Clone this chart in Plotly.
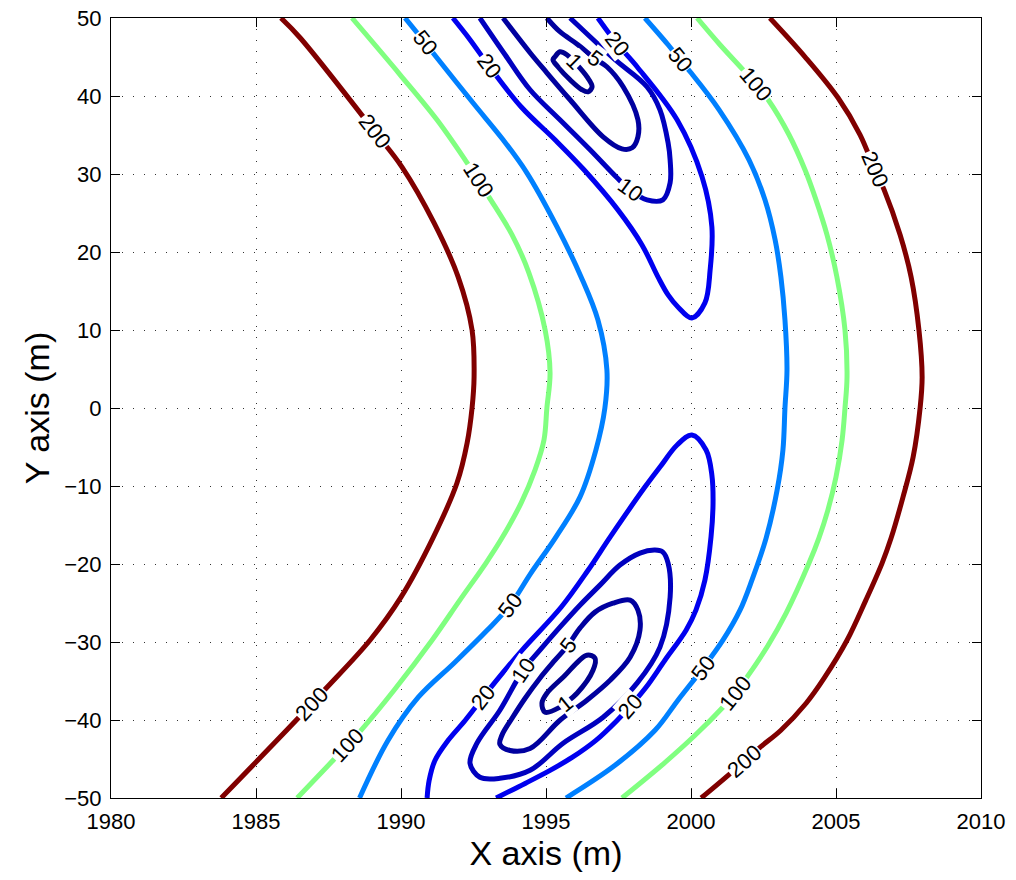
import math
import plotly.graph_objects as go

# ---------------- data ----------------
levels = [1, 5, 10, 20, 50, 100, 200]
level_colors = ['#00008F', '#00009F', '#0000BF', '#0000EF', '#0080FF', '#80FF80', '#800000']

x_ticks = [1980, 1985, 1990, 1995, 2000, 2005, 2010]
x_tick_labels = ['1980', '1985', '1990', '1995', '2000', '2005', '2010']
y_ticks = [-50, -40, -30, -20, -10, 0, 10, 20, 30, 40, 50]
y_tick_labels = ['\u221250', '\u221240', '\u221230', '\u221220', '\u221210', '0', '10', '20', '30', '40', '50']

# level 200
c200_left_x = [1985.86, 1986.52, 1989.10, 1990.03, 1991.14, 1991.97, 1992.45, 1992.52, 1992.45, 1992.28, 1991.93, 1991.10, 1990.00, 1988.93, 1987.45, 1986.93, 1986.45, 1983.80]
c200_left_y = [50.0, 47.47, 35.41, 30.92, 23.73, 16.81, 10.0, 3.97, 0.0, -4.49, -9.62, -16.68, -24.25, -29.77, -35.80, -37.85, -39.78, -50.0]
c200_right_x = [2002.72, 2003.93, 2005.07, 2005.83, 2006.34, 2006.66, 2007.21, 2007.59, 2007.86, 2007.97, 2007.90, 2007.66, 2007.31, 2006.90, 2006.59, 2006.03, 2005.38, 2004.59, 2003.97, 2003.10, 2002.38, 2001.83, 2001.28, 2000.35]
c200_right_y = [50.0, 45.03, 39.77, 35.03, 30.54, 27.97, 22.20, 16.81, 10.0, 3.97, 0.0, -6.29, -11.42, -16.68, -19.88, -24.63, -29.78, -34.64, -37.85, -41.31, -43.50, -45.29, -47.09, -50.0]

# level 100
c100_left_x = [1988.31, 1989.97, 1991.24, 1992.21, 1992.66, 1993.03, 1993.83, 1994.41, 1994.97, 1995.14, 1995.03, 1994.93, 1994.62, 1994.14, 1993.48, 1992.93, 1992.03, 1991.07, 1989.76, 1988.62, 1988.14, 1987.66, 1986.42]
c100_left_y = [50.0, 42.72, 36.95, 31.82, 29.26, 27.07, 22.20, 17.33, 10.0, 4.49, 0.0, -4.11, -7.96, -12.19, -16.68, -19.88, -24.63, -29.77, -36.18, -41.32, -43.24, -45.16, -50.0]
c100_right_x = [2000.21, 2001.00, 2001.79, 2002.24, 2002.66, 2003.38, 2003.93, 2004.31, 2004.69, 2005.03, 2005.31, 2005.38, 2005.31, 2005.21, 2005.00, 2004.72, 2004.41, 2004.07, 2003.28, 2002.66, 2001.93, 2001.52, 2001.10, 2000.14, 1999.07, 1997.62]
c100_right_y = [50.0, 46.57, 43.37, 41.44, 39.52, 35.03, 30.54, 26.69, 22.20, 16.81, 10.0, 3.97, 0.0, -4.11, -8.85, -13.09, -16.68, -19.88, -26.30, -30.41, -34.51, -36.57, -38.36, -41.96, -45.55, -50.0]

# level 50
c50_left_x = [1990.14, 1990.83, 1991.10, 1992.48, 1993.52, 1994.34, 1995.38, 1996.21, 1996.79, 1997.10, 1997.03, 1996.72, 1996.17, 1995.34, 1994.48, 1993.76, 1992.97, 1991.86, 1990.59, 1989.55, 1988.57]
c50_left_y = [50.0, 46.83, 45.55, 39.13, 34.39, 30.15, 23.22, 16.81, 11.29, 4.88, 0.0, -5.39, -11.42, -16.55, -21.17, -25.29, -28.50, -32.59, -37.11, -42.63, -50.0]
c50_right_x = [1998.41, 1999.21, 1999.62, 2000.00, 2000.97, 2002.00, 2002.55, 2002.90, 2003.10, 2003.24, 2003.31, 2003.24, 2003.17, 2002.97, 2002.59, 2002.10, 2001.69, 2001.10, 2000.41, 1999.55, 1998.76, 1997.38, 1995.69]
c50_right_y = [50.0, 46.57, 44.65, 42.98, 38.23, 31.82, 26.69, 21.56, 16.81, 11.29, 4.88, 0.0, -5.39, -10.52, -16.68, -22.07, -25.92, -29.77, -33.36, -37.46, -41.32, -45.81, -50.0]

# level 20
c20_top_x = [1991.79, 1992.38, 1993.03, 1994.14, 1995.31, 1996.31, 1997.48, 1998.31, 1998.86, 1999.21, 1999.55, 2000.03, 2000.48, 2000.66, 2000.72, 2000.38, 1999.52, 1998.14, 1997.45, 1996.79]
c20_top_y = [50.0, 47.22, 43.88, 38.62, 34.39, 30.54, 25.40, 20.91, 16.81, 14.50, 12.96, 11.55, 13.48, 17.71, 23.22, 29.64, 36.95, 43.75, 46.70, 50.0]
c20_bot_x = [1990.90, 1990.97, 1991.17, 1991.62, 1992.21, 1992.83, 1993.21, 1994.17, 1995.52, 1996.45, 1997.21, 1998.41, 1998.93, 1999.52, 2000.03, 2000.52, 2000.72, 2000.76, 2000.69, 2000.48, 2000.17, 1999.83, 1999.10, 1998.45, 1997.90, 1997.45, 1996.72, 1995.90, 1995.14, 1994.28, 1993.28]
c20_bot_y = [-50.0, -47.76, -45.19, -42.63, -40.06, -37.11, -35.31, -31.07, -25.55, -20.80, -16.55, -10.14, -7.57, -4.75, -3.46, -5.39, -8.60, -12.19, -16.55, -22.07, -25.92, -28.49, -32.34, -35.81, -38.25, -40.05, -42.61, -44.80, -46.46, -48.13, -50.0]

# level 10
c10_top_x = [1992.72, 1993.59, 1994.45, 1995.48, 1996.52, 1997.45, 1997.90, 1998.48, 1999.03, 1999.28, 1999.28, 1999.21, 1998.93, 1998.48, 1997.38, 1996.52, 1995.83]
c10_top_y = [50.0, 45.29, 40.80, 36.95, 33.10, 29.51, 27.97, 26.69, 26.69, 28.87, 31.82, 34.00, 38.23, 41.19, 44.65, 47.60, 50.0]
c10_bot_x = [1998.76, 1998.24, 1997.55, 1996.86, 1996.17, 1995.48, 1994.79, 1994.21, 1993.41, 1992.62, 1992.38, 1992.72, 1993.41, 1994.45, 1995.59, 1996.97, 1998.14, 1998.93, 1999.28, 1999.21, 1999.03, 1998.76]
c10_bot_y = [-18.22, -18.60, -20.14, -22.71, -25.29, -28.10, -31.05, -33.62, -38.75, -42.98, -45.55, -47.34, -47.47, -46.45, -42.98, -39.65, -35.28, -30.66, -24.25, -19.88, -18.47, -18.22]

# level 5
c5_top_x = [1993.52, 1994.45, 1995.03, 1995.83, 1996.97, 1997.62, 1997.97, 1998.17, 1998.17, 1997.66, 1997.10, 1996.69, 1996.10, 1995.48, 1995.03]
c5_top_y = [50.0, 45.55, 42.98, 39.52, 34.77, 33.23, 33.36, 34.77, 36.95, 41.19, 43.75, 44.78, 46.58, 48.24, 50.0]
c5_bot_x = [1998.17, 1997.90, 1997.31, 1996.69, 1996.17, 1995.76, 1995.31, 1994.79, 1994.28, 1993.83, 1993.48, 1993.41, 1993.76, 1994.45, 1995.48, 1996.41, 1997.21, 1997.90, 1998.24, 1998.17]
c5_bot_y = [-25.92, -24.64, -25.03, -26.17, -28.23, -30.41, -32.33, -34.64, -37.21, -39.78, -41.95, -43.11, -43.91, -43.65, -40.03, -37.46, -34.90, -31.95, -28.48, -25.92]

# level 1
c1_top_x = [1995.31, 1995.48, 1995.72, 1995.97, 1996.07, 1996.41, 1996.59, 1996.45, 1996.24, 1995.83, 1995.41, 1995.24, 1995.31]
c1_top_y = [45.03, 45.68, 45.29, 44.39, 44.01, 42.48, 41.19, 40.54, 40.80, 42.08, 43.75, 44.65, 45.03]
c1_bot_x = [1994.86, 1995.03, 1995.59, 1996.41, 1996.69, 1996.62, 1996.07, 1995.66, 1995.48, 1994.97, 1994.86]
c1_bot_y = [-37.85, -36.57, -34.52, -31.69, -32.07, -33.62, -36.57, -37.85, -38.36, -39.00, -37.85]

contour_paths = [
    (200, c200_left_x, c200_left_y), (200, c200_right_x, c200_right_y),
    (100, c100_left_x, c100_left_y), (100, c100_right_x, c100_right_y),
    (50, c50_left_x, c50_left_y), (50, c50_right_x, c50_right_y),
    (20, c20_top_x, c20_top_y), (20, c20_bot_x, c20_bot_y),
    (10, c10_top_x, c10_top_y), (10, c10_bot_x, c10_bot_y),
    (5, c5_top_x, c5_top_y), (5, c5_bot_x, c5_bot_y),
    (1, c1_top_x, c1_top_y), (1, c1_bot_x, c1_bot_y),
]

# inline contour labels: level, x, y
label_points = [
    (200, 1989.10, 35.41), (200, 2006.34, 30.54), (200, 1986.93, -37.85), (200, 2001.83, -45.29),
    (100, 1992.66, 29.26), (100, 2002.24, 41.44), (100, 1988.14, -43.24), (100, 2001.52, -36.57),
    (50, 1990.83, 46.83), (50, 1999.62, 44.65), (50, 1993.76, -25.29), (50, 2000.41, -33.36),
    (20, 1993.03, 43.88), (20, 1997.45, 46.70), (20, 1992.83, -37.11), (20, 1997.90, -38.25),
    (10, 1997.90, 27.97), (10, 1994.21, -33.62),
    (5, 1996.69, 44.78), (5, 1995.76, -30.41),
    (1, 1995.97, 44.39), (1, 1995.66, -37.85),
]

# ---------------- figure ----------------
W, H = 1016, 880
ML, MR, MT, MB = 111, 35, 18, 82
XR = [1980, 2010]
YR = [-50, 50]
sx = (W - ML - MR) / (XR[1] - XR[0])
sy = (H - MT - MB) / (YR[1] - YR[0])

color_of = dict(zip(levels, level_colors))
FONT = 'Liberation Sans, Arial, Helvetica, sans-serif'

fig = go.Figure()
for lev, xs, ys in contour_paths:
    fig.add_trace(go.Scatter(
        x=xs, y=ys, mode='lines',
        line=dict(color=color_of[lev], width=5, shape='spline', smoothing=1.0),
        hoverinfo='skip', showlegend=False))

annotations = []
for lev, lx, ly in label_points:
    best = None
    for plev, xs, ys in contour_paths:
        if plev != lev:
            continue
        for i in range(len(xs)):
            d = ((xs[i] - lx) * sx) ** 2 + ((ys[i] - ly) * sy) ** 2
            if best is None or d < best[0]:
                best = (d, xs, ys, i)
    _, xs, ys, i = best
    i0 = max(i - 1, 0)
    i1 = min(i + 1, len(xs) - 1)
    dx = (xs[i1] - xs[i0]) * sx
    dy = -(ys[i1] - ys[i0]) * sy
    ang = math.degrees(math.atan2(dy, dx))
    if ang > 90:
        ang -= 180
    if ang < -90:
        ang += 180
    annotations.append(dict(
        x=lx, y=ly, xref='x', yref='y', text=str(lev), showarrow=False,
        textangle=ang, font=dict(family=FONT, size=22, color='black'),
        bgcolor='white', borderpad=0, xanchor='center', yanchor='middle'))

axis_common = dict(
    ticks='inside', ticklen=9, tickwidth=1, tickcolor='black',
    showline=True, linecolor='black', linewidth=1, mirror='ticks',
    showgrid=True, gridcolor='#333333', gridwidth=1, griddash='1px,10px',
    zeroline=False, automargin=False,
    tickfont=dict(family=FONT, size=22, color='black'),
)

fig.update_layout(
    width=W, height=H,
    margin=dict(l=ML, r=MR, t=MT, b=MB),
    plot_bgcolor='white', paper_bgcolor='white',
    font=dict(family=FONT, color='black'),
    annotations=annotations,
    showlegend=False,
)
fig.update_xaxes(range=XR, tickvals=x_ticks, ticktext=x_tick_labels,
                 ticklabelstandoff=4,
                 title=dict(text='X axis (m)', font=dict(family=FONT, size=34, color='black'), standoff=2),
                 **axis_common)
fig.update_yaxes(range=YR, tickvals=y_ticks, ticktext=y_tick_labels,
                 ticklabelstandoff=4,
                 title=dict(text='Y axis (m)', font=dict(family=FONT, size=34, color='black'), standoff=4),
                 **axis_common)

fig.write_html('out.html')
